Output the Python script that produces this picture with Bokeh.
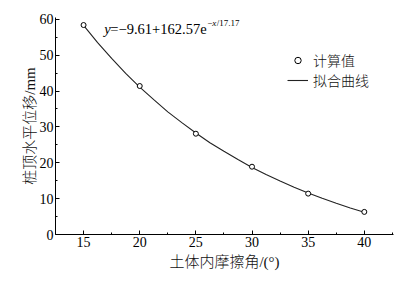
from bokeh.plotting import figure
from bokeh.models import Range1d, FixedTicker, Legend, LegendItem, Label
from bokeh.embed import file_html
from bokeh.resources import INLINE

# data
angle = [15, 20, 25, 30, 35, 40]
disp = [58.4, 41.4, 28.1, 18.9, 11.4, 6.3]

fit_x = [15, 16.25, 17.5, 18.75, 20, 21.25, 22.5, 23.75, 25, 26.25, 27.5,
         28.75, 30, 31.25, 32.5, 33.75, 35, 36.25, 37.5, 38.75, 40]
fit_y = [58.3, 53.5, 49.1, 44.9, 41.1, 37.6, 34.2, 31.2, 28.3, 25.6, 23.2,
         20.9, 18.7, 16.7, 14.9, 13.2, 11.6, 10.1, 8.7, 7.4, 6.2]

x_ticks = [15, 20, 25, 30, 35, 40]
x_minor = [12.5, 17.5, 22.5, 27.5, 32.5, 37.5, 42.5]
y_ticks = [0, 10, 20, 30, 40, 50, 60]
y_minor = [5, 15, 25, 35, 45, 55]

x_label = "土体内摩擦角/(°)"
y_label = "桩顶水平位移/mm"
legend_labels = ["计算值", "拟合曲线"]

FONT = "Liberation Serif, Noto Sans CJK SC Light, Noto Sans CJK SC DemiLight, Noto Sans CJK SC"

p = figure(width=408, height=283, output_backend="svg", toolbar_location=None,
           x_range=Range1d(12.5, 42.6), y_range=Range1d(0, 60.5),
           min_border_left=55, min_border_right=15, min_border_top=17,
           min_border_bottom=49)
p.outline_line_color = None
p.grid.visible = False
p.background_fill_color = "white"
p.border_fill_color = "white"

line_r = p.line(fit_x, fit_y, line_color="#222222", line_width=1.1)
pts_r = p.scatter(angle, disp, marker="circle", size=5, fill_color="white",
                  line_color="black", line_width=1)

for ax in (p.xaxis[0], p.yaxis[0]):
    ax.axis_line_color = "black"
    ax.axis_line_width = 1
    ax.major_tick_in = 4
    ax.major_tick_out = 0
    ax.minor_tick_in = 2
    ax.minor_tick_out = 0
    ax.major_tick_line_color = "black"
    ax.minor_tick_line_color = "black"
    ax.major_label_text_font = FONT
    ax.major_label_text_font_size = "14px"
    ax.major_label_text_color = "black"
    ax.axis_label_text_font = FONT
    ax.axis_label_text_font_size = "15px"
    ax.axis_label_text_font_style = "normal"
    ax.axis_label_text_color = "#111111"
    ax.major_label_standoff = 2

p.xaxis[0].ticker = FixedTicker(ticks=x_ticks, minor_ticks=x_minor)
p.yaxis[0].ticker = FixedTicker(ticks=y_ticks, minor_ticks=y_minor)
p.xaxis[0].axis_label = x_label
p.yaxis[0].axis_label = y_label
p.xaxis[0].axis_label_standoff = 4
p.yaxis[0].axis_label_standoff = -1

legend = Legend(items=[LegendItem(label=legend_labels[0], renderers=[pts_r]),
                       LegendItem(label=legend_labels[1], renderers=[line_r])],
                location=(232, 144), border_line_alpha=0, background_fill_alpha=0,
                padding=0, margin=0, glyph_width=21, glyph_height=16,
                label_standoff=5, spacing=-7, label_text_font=FONT,
                label_text_font_size="14px", label_height=16,
                label_text_color="#111111")
p.add_layout(legend, "center")

# equation annotation
ex, ey = 16.85, 57.2
eq_parts = [("y", 0, 0, "14.5px", "italic"),
            ("=−9.61+162.57e", 6, 0, "14.5px", "normal"),
            ("−", 103, 6, "9px", "normal"),
            ("x", 108, 6, "9px", "italic"),
            ("/17.17", 112.5, 6, "9px", "normal")]
for txt, xo, yo, fs, st in eq_parts:
    p.add_layout(Label(x=ex, y=ey, x_offset=xo, y_offset=yo, text=txt,
                       text_font=FONT, text_font_size=fs, text_font_style=st,
                       text_baseline="middle", text_align="left",
                       text_color="black"))

open("out.html", "w").write(file_html(p, INLINE))
